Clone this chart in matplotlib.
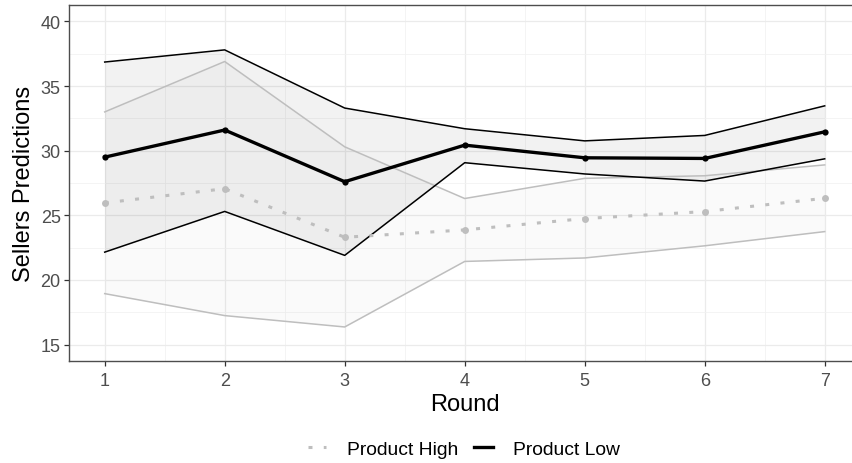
import matplotlib.pyplot as plt
from matplotlib.lines import Line2D
from matplotlib.ticker import MultipleLocator

plt.rcParams['font.family'] = ['Liberation Sans', 'DejaVu Sans']

rounds = [1, 2, 3, 4, 5, 6, 7]

# Product High: mean prediction and band
high_mean = [25.96, 27.06, 23.3, 23.87, 24.75, 25.29, 26.32]
high_upper = [33.0, 36.9, 30.3, 26.3, 27.86, 28.06, 28.9]
high_lower = [18.94, 17.24, 16.36, 21.43, 21.7, 22.64, 23.74]

# Product Low: mean prediction and band
low_mean = [29.5, 31.6, 27.6, 30.43, 29.45, 29.4, 31.46]
low_upper = [36.86, 37.8, 33.3, 31.7, 30.76, 31.18, 33.47]
low_lower = [22.15, 25.3, 21.9, 29.07, 28.2, 27.65, 29.37]

labels = ['Product High', 'Product Low']

HIGH_COL = '#BEBEBE'
LOW_COL = 'black'

fig = plt.figure(figsize=(8.52, 4.64), dpi=100)
ax = fig.add_axes([68.7 / 852, 102.3 / 464, 792 / 852, 355.4 / 464])

# bands
ax.fill_between(rounds, high_lower, high_upper, color='black', alpha=0.018, lw=0, zorder=2)
ax.fill_between(rounds, low_lower, low_upper, color='black', alpha=0.05, lw=0, zorder=2)
ax.plot(rounds, high_upper, color=HIGH_COL, lw=1.1, zorder=3)
ax.plot(rounds, high_lower, color=HIGH_COL, lw=1.1, zorder=3)
ax.plot(rounds, low_upper, color=LOW_COL, lw=1.1, zorder=3)
ax.plot(rounds, low_lower, color=LOW_COL, lw=1.1, zorder=3)

# means
ax.plot(rounds, high_mean, color=HIGH_COL, lw=2.2, dashes=(1.3, 3.7),
        dash_capstyle='butt', zorder=4)
ax.plot(rounds, high_mean, 'o', color=HIGH_COL, ms=5, mew=0, zorder=4)
ax.plot(rounds, low_mean, color=LOW_COL, lw=2.4, zorder=5)
ax.plot(rounds, low_mean, 'o', color=LOW_COL, ms=4.5, mew=0, zorder=5)

ax.set_xlim(0.7, 7.3)
ax.set_ylim(13.75, 41.25)
ax.xaxis.set_major_locator(MultipleLocator(1))
ax.xaxis.set_minor_locator(MultipleLocator(0.5))
ax.yaxis.set_major_locator(MultipleLocator(5))
ax.yaxis.set_minor_locator(MultipleLocator(2.5))
ax.grid(which='major', color='#EBEBEB', lw=0.9, zorder=0)
ax.grid(which='minor', color='#F2F2F2', lw=0.6, zorder=0)
ax.set_axisbelow(True)

for s in ax.spines.values():
    s.set_color('#4D4D4D')
    s.set_linewidth(1.0)
ax.tick_params(which='major', length=3.3, width=0.9, color='#333333',
               labelcolor='#4D4D4D', labelsize=13, pad=2.5)
ax.tick_params(axis='x', which='major', pad=4.5)
ax.tick_params(which='minor', length=0)

ax.set_xlabel('Round', fontsize=17, labelpad=3)
ax.set_ylabel('Sellers Predictions', fontsize=17, labelpad=4)

handles = [
    Line2D([], [], color=HIGH_COL, lw=2.2, dashes=(1.3, 3.7), dash_capstyle='butt'),
    Line2D([], [], color=LOW_COL, lw=2.4),
]
fig.legend(handles, labels, loc='center', bbox_to_anchor=(464 / 852, 14 / 464),
           ncol=2, frameon=False, fontsize=13.9, handlelength=0.95,
           handletextpad=1.05, columnspacing=0.85)

fig.savefig('out.png', dpi=100)
